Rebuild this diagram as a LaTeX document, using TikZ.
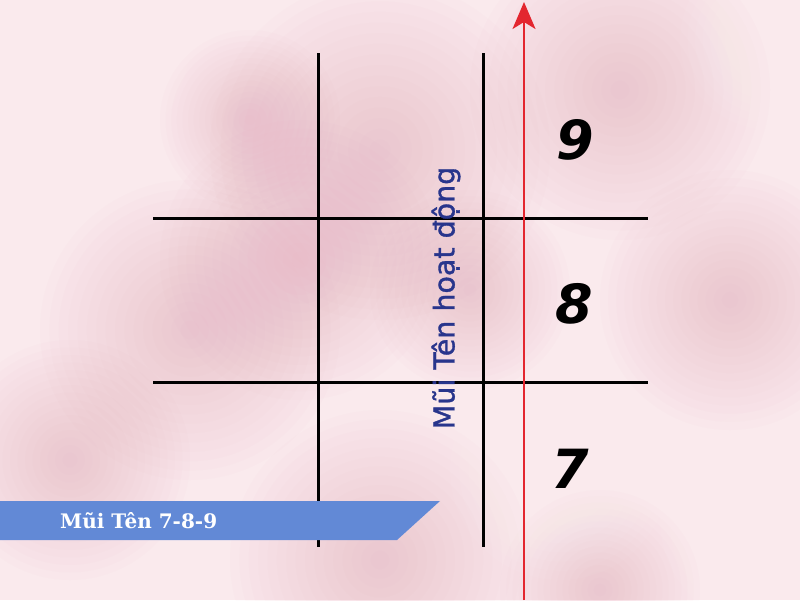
\documentclass[tikz,border=0pt]{standalone}
\usepackage{fontspec}
\setmainfont{DejaVu Serif}
\newfontfamily\labelfont[FakeBold=1.2]{DejaVu Sans}
\newfontfamily\digitfont{DejaVu Sans}
\usetikzlibrary{arrows.meta}
\definecolor{bgpink}{HTML}{FAEAED}
\definecolor{blobpink}{HTML}{E9A3B5}
\definecolor{arrowred}{HTML}{E3262F}
\definecolor{bannerblue}{HTML}{6289D6}
\definecolor{textnavy}{HTML}{28358C}
\newcommand{\softblob}[3]{%
  \foreach \k in {1,...,16}{\fill[blobpink,fill opacity=0.03] (#1,#2) circle[radius={#3*\k/16}];}}
\newcommand{\softlight}[3]{%
  \foreach \k in {1,...,12}{\fill[white,fill opacity=0.04] (#1,#2) circle[radius={#3*\k/12}];}}
\tikzset{
  gridline/.style={line width=3pt,black},
  digitlabel/.style={font=\digitfont\bfseries\itshape\fontsize{54}{54}\selectfont,text=black},
}
\begin{document}
\begin{tikzpicture}[x=1pt,y=-1pt]
\useasboundingbox (0,0) rectangle (800,600);
\fill[bgpink] (0,0) rectangle (800,600);
% watercolour blobs
\softblob{380}{150}{170}
\softblob{300}{260}{140}
\softblob{190}{330}{150}
\softblob{620}{90}{150}
\softblob{730}{300}{130}
\softblob{380}{560}{150}
\softblob{70}{460}{120}
\softblob{600}{590}{100}
\softblob{470}{290}{100}
\softblob{250}{120}{90}
\softlight{60}{40}{130}
\softlight{560}{470}{110}
\softlight{770}{520}{110}
\softlight{770}{40}{90}
% grid
\coordinate (v1t) at (318,53); \coordinate (v1b) at (318,547);
\coordinate (v2t) at (483,53); \coordinate (v2b) at (483,547);
\coordinate (h1l) at (153,218); \coordinate (h1r) at (648,218);
\coordinate (h2l) at (153,382); \coordinate (h2r) at (648,382);
\draw[gridline] (v1t) -- (v1b);
\draw[gridline] (v2t) -- (v2b);
\draw[gridline] (h1l) -- (h1r);
\draw[gridline] (h2l) -- (h2r);
% red arrow
\coordinate (arrbot) at (524,600);
\coordinate (arrtop) at (524,2);
\draw[arrowred,line width=2.4pt,-{Stealth[length=27pt,width=23pt,inset=7pt]}] (arrbot) -- (arrtop);
% digits
\node[digitlabel] (d9) at (575,140) {9};
\node[digitlabel] (d8) at (574,304) {8};
\node[digitlabel] (d7) at (570,469) {7};
% rotated label
\node[rotate=90,font=\labelfont\fontsize{28.5}{28.5}\selectfont,text=textnavy,inner sep=0pt] (act) at (446,298) {Mũi Tên hoạt động};
% banner
\fill[bannerblue] (0,501) -- (440,501) -- (397,540) -- (0,540) -- cycle;
\node[anchor=west,text=white,font=\bfseries\fontsize{20}{20}\selectfont,inner sep=0pt] (title) at (60,521) {Mũi Tên 7-8-9};
\end{tikzpicture}
\end{document}
